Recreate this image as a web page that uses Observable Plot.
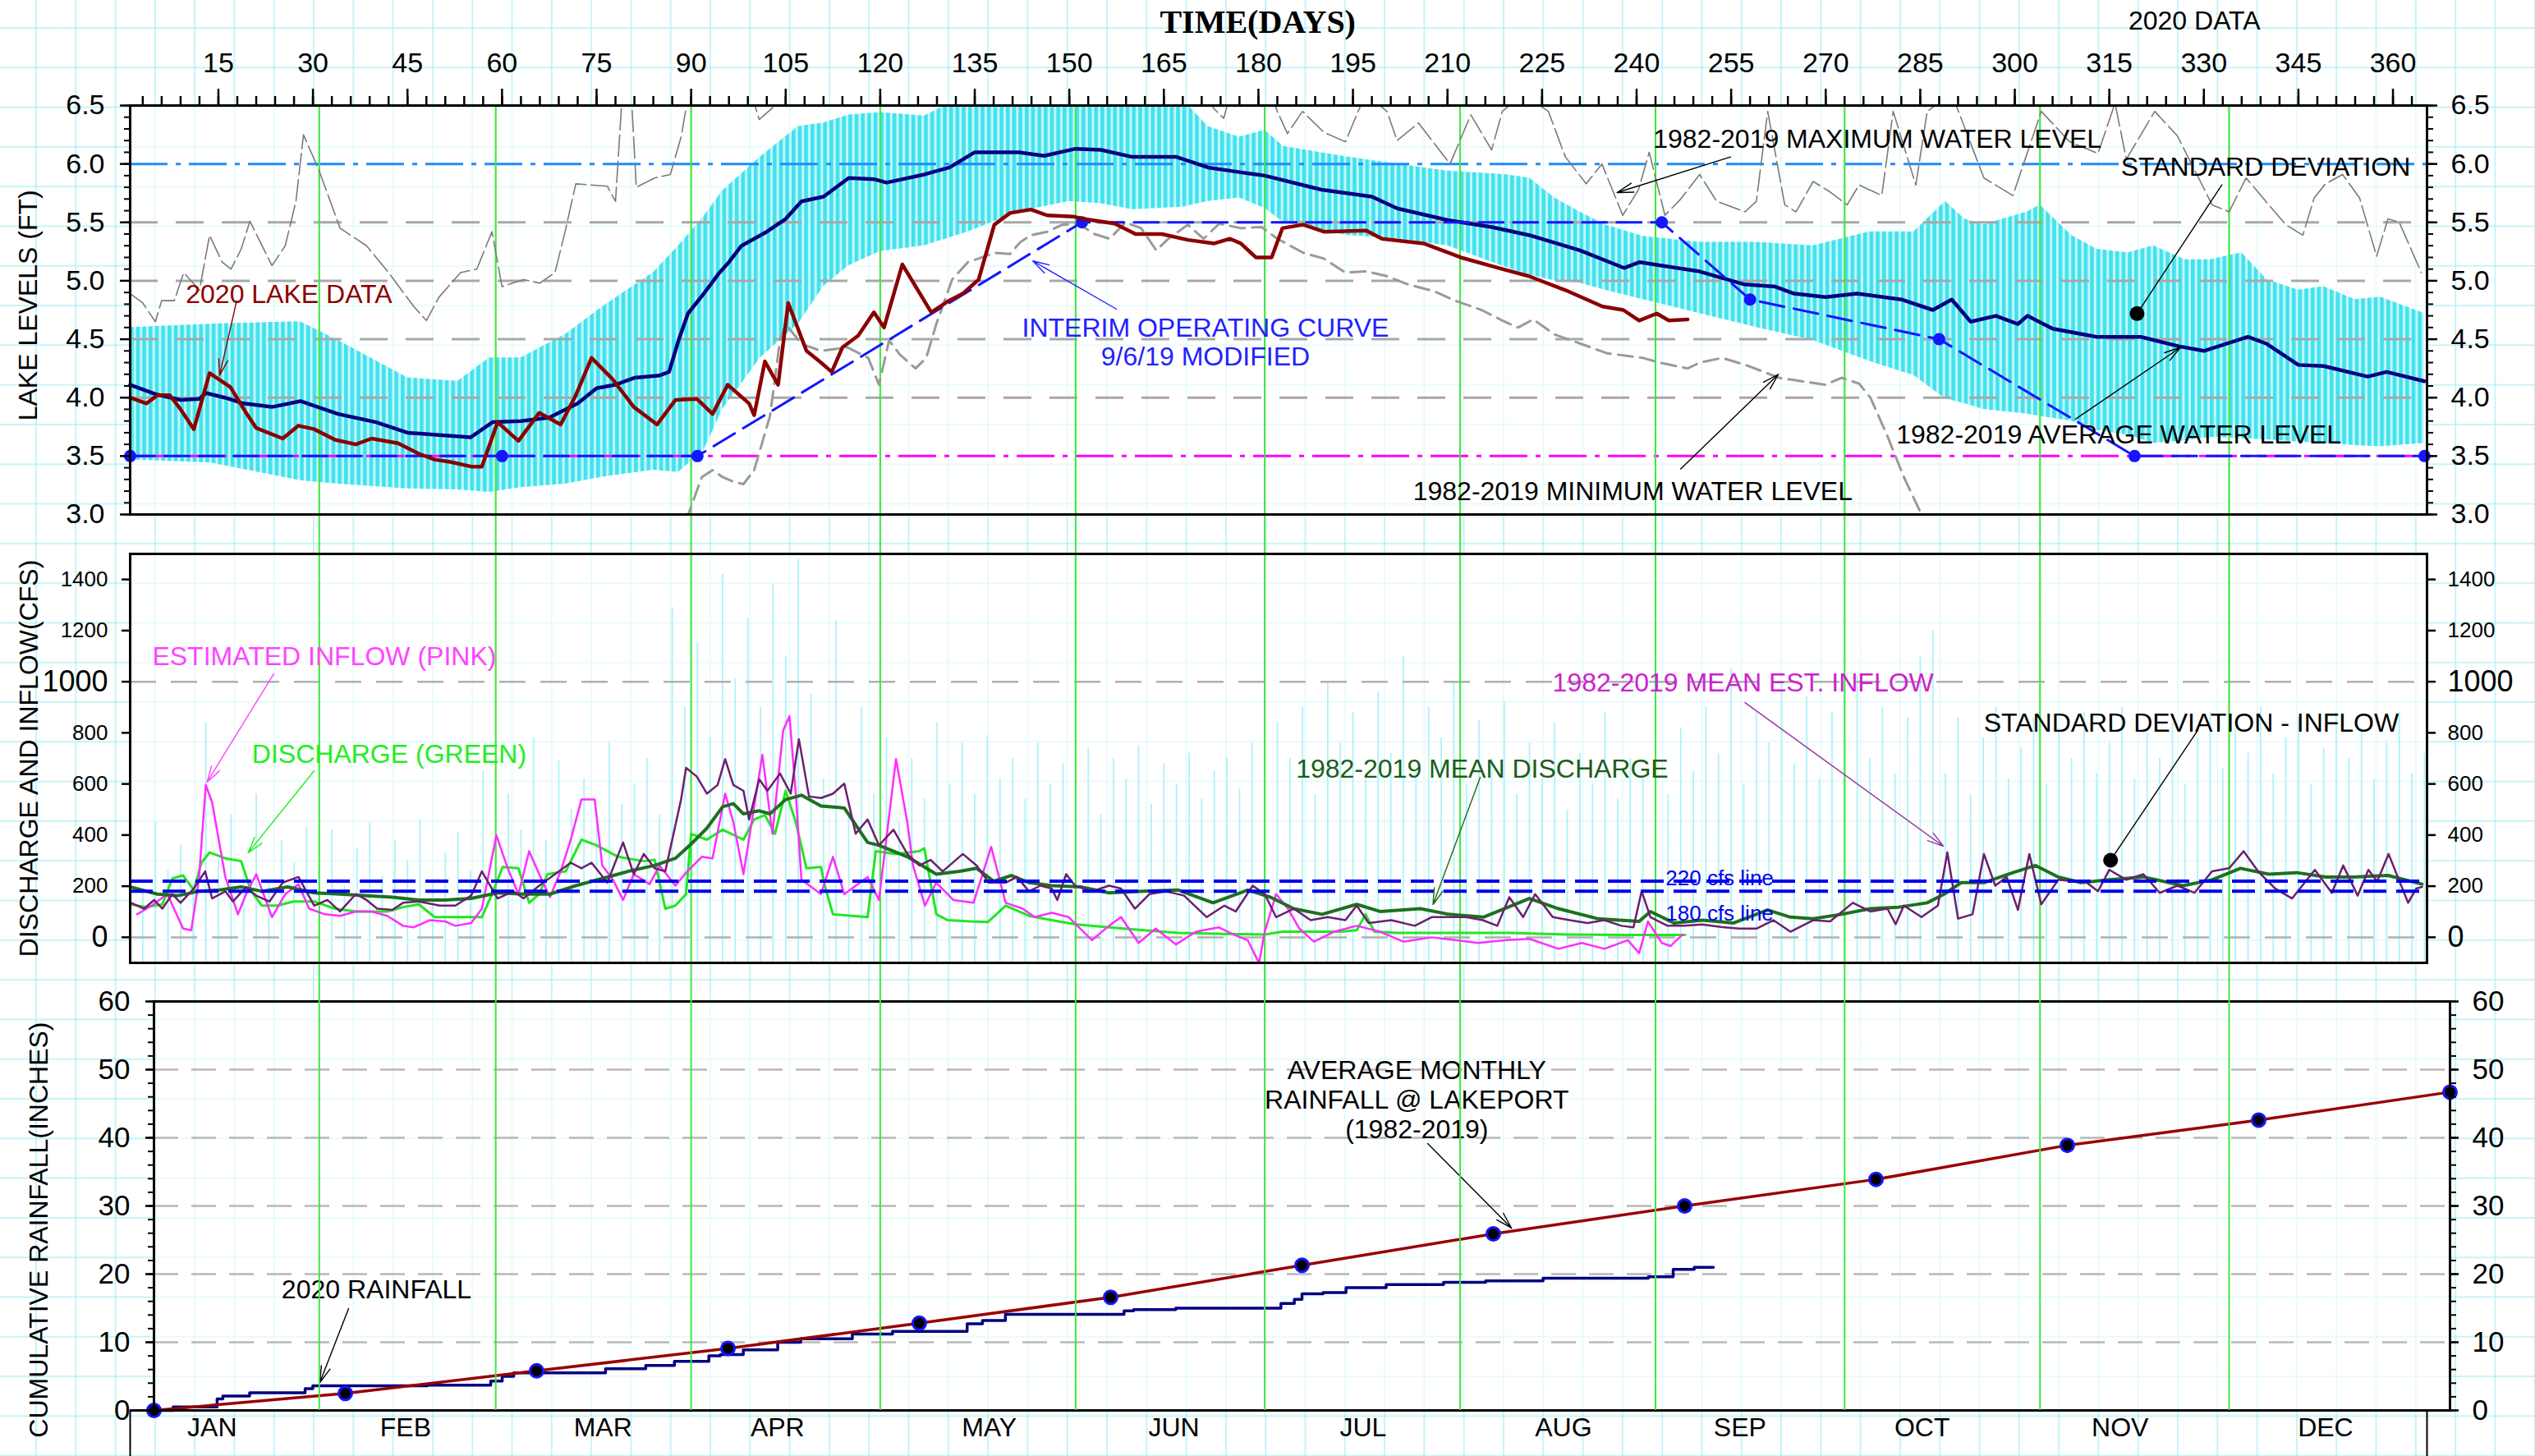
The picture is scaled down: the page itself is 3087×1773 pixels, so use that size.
<!DOCTYPE html>
<html><head><meta charset="utf-8">
<script src="https://cdn.jsdelivr.net/npm/d3@7"></script>
<script src="https://cdn.jsdelivr.net/npm/@observablehq/plot@0.6"></script>
<style>
html,body{margin:0;padding:0;background:#fff;}
#chart{position:relative;width:3087px;height:1773px;overflow:hidden;background-color:#fff;
 background-image:linear-gradient(to right, rgba(160,238,242,0.6) 1.5px, transparent 1.5px),linear-gradient(to bottom, rgba(160,238,242,0.6) 1.5px, transparent 1.5px);
 background-size:48.3px 48.3px;background-position:43px 33px;}
#chart svg{position:absolute;left:0;}
</style></head><body><div id="chart"></div>
<script>
// ---------------- tick labels / categories ----------------
const dayTicks = [15,30,45,60,75,90,105,120,135,150,165,180,195,210,225,240,255,270,285,300,315,330,345,360];
const dayMinorTicks = d3.range(3, 366, 3);
const levelTicks = [3.0,3.5,4.0,4.5,5.0,5.5,6.0,6.5];
const levelMinorTicks = d3.range(30, 66).map(d => d / 10);
const flowTicksSmall = [200,400,600,800,1200,1400];
const flowTicksBig = [0,1000];
const rainTicks = [0,10,20,30,40,50,60];
const rainMinorTicks = d3.range(0, 61, 2);
const monthNames = ["JAN","FEB","MAR","APR","MAY","JUN","JUL","AUG","SEP","OCT","NOV","DEC"];
const monthMidDays = [14,44.7,76,103.7,137.3,166.6,196.6,228.4,256.4,285.3,316.7,349.3];
const monthEndDays = [31,59,90,120,151,181,212,243,273,304,334];
const levelGrid = [4.0,4.5,5.0,5.5];

// ---------------- lake levels (ft) : [day, value] ----------------
const avgLevel = [[1,4.11],[5,4.03],[9,3.98],[12,3.99],[13,4.04],[16,4.0],[19,3.95],[23.5,3.92],[28,3.97],[34,3.86],[40,3.79],[45,3.70],[50,3.68],[55,3.66],[58.5,3.79],[63,3.80],[67.5,3.83],[72,3.95],[75,4.08],[78,4.11],[81,4.17],[85,4.19],[86.5,4.22],[88,4.49],[89.5,4.72],[92,4.89],[94.5,5.07],[96,5.16],[98,5.30],[102,5.42],[105,5.53],[107.5,5.68],[111,5.72],[115,5.88],[119,5.87],[121,5.84],[127,5.91],[131,5.97],[135,6.10],[142,6.10],[146,6.07],[151,6.13],[155,6.12],[160,6.06],[167,6.06],[172,5.97],[177,5.93],[181,5.90],[190,5.78],[198,5.72],[202,5.62],[210,5.52],[217,5.46],[223,5.39],[231,5.26],[238,5.11],[240.5,5.16],[244,5.13],[250,5.08],[257,4.97],[262,4.95],[265,4.89],[270,4.86],[275,4.89],[282,4.84],[287,4.75],[290,4.84],[293,4.65],[297,4.70],[300.5,4.63],[302,4.70],[306,4.59],[313,4.52],[320,4.52],[326,4.44],[330,4.40],[337,4.52],[340,4.46],[345,4.28],[349,4.27],[356,4.18],[359,4.22],[365,4.14]];
const lake2020 = [[1,4.00],[3.6,3.95],[5.3,4.02],[7.3,4.02],[9,3.90],[11.1,3.73],[13.6,4.21],[16.9,4.09],[19.4,3.87],[21,3.74],[25.2,3.65],[27.7,3.76],[30.2,3.73],[33.5,3.64],[36.8,3.60],[39.3,3.65],[43.5,3.61],[46.8,3.52],[49.3,3.47],[51.8,3.45],[55.1,3.41],[56.8,3.41],[59.3,3.79],[62.6,3.63],[65.9,3.87],[69.3,3.77],[71.7,4.02],[74.2,4.34],[77.5,4.16],[80.9,3.92],[84.6,3.77],[87.5,3.98],[90.9,3.99],[93.4,3.86],[95.8,4.11],[99.2,3.95],[100,3.85],[101.7,4.31],[103.8,4.11],[105.4,4.81],[108.3,4.40],[110.6,4.30],[112.3,4.22],[114,4.43],[116.5,4.53],[119,4.73],[120.6,4.60],[123.5,5.14],[128.1,4.73],[130.6,4.82],[133.1,4.89],[135.6,5.01],[138.1,5.48],[140.6,5.58],[143.9,5.61],[146.5,5.56],[150.6,5.55],[152.2,5.53],[157.2,5.49],[160.5,5.40],[164.7,5.40],[168.8,5.35],[173,5.32],[175.5,5.36],[177.2,5.32],[179.6,5.20],[182.1,5.20],[183.8,5.45],[187.1,5.48],[190.4,5.42],[197.1,5.43],[199.6,5.36],[206.2,5.32],[212.1,5.20],[218.7,5.10],[222.9,5.04],[228.7,4.92],[234.6,4.78],[237.9,4.75],[240.4,4.66],[243.2,4.72],[245.1,4.66],[248.1,4.67]];
const maxLevel = [[1,4.89],[3,4.81],[5,4.65],[6,4.83],[8,4.83],[9.5,5.07],[12,4.92],[13.6,5.39],[15.6,5.16],[17,5.10],[18.6,5.27],[20,5.51],[23.5,5.13],[25.6,5.30],[27.3,5.68],[28.5,6.25],[31,5.94],[34.3,5.45],[38.5,5.30],[42,5.07],[46,4.78],[48,4.66],[50,4.86],[53.4,5.07],[56,5.10],[58.4,5.42],[60,4.95],[63.4,5.01],[66,4.98],[68.4,5.07],[70,5.42],[71.7,5.83],[76.7,5.81],[78,5.68],[79.2,6.7],[80.5,6.6],[81.3,5.80],[84.2,5.88],[86.7,5.91],[88.4,6.23],[89.6,6.6],[95,6.9],[99,6.7],[100.8,6.38],[103.3,6.5],[106,6.9],[120,7.0],[150,7.0],[170,6.7],[173,6.47],[174.5,6.39],[176,6.7],[182,6.6],[183,6.45],[184.6,6.26],[187,6.45],[190.4,6.27],[193.8,6.19],[197,6.6],[200.4,6.45],[202,6.2],[205.4,6.35],[210.4,6.0],[213.7,6.42],[217,6.12],[218.7,6.45],[222,6.6],[226,6.45],[228.7,6.06],[232,5.83],[234.5,6.0],[237.8,5.56],[240.3,5.78],[242,6.1],[244.5,5.56],[247,5.7],[250,5.91],[252.7,5.68],[257.2,5.59],[259,5.68],[260.8,6.45],[263.5,5.65],[265.3,5.59],[268,5.85],[270.7,5.76],[273.4,5.65],[275.3,5.82],[278.9,5.73],[280.7,6.45],[284.3,5.82],[286.1,6.45],[290,6.6],[295.1,5.88],[299.7,5.73],[304.2,6.45],[308.7,6.19],[313.2,6.09],[315.9,6.52],[317.7,6.04],[322.2,6.45],[325.8,6.24],[331.3,5.65],[334,5.59],[336.7,5.88],[340.3,5.65],[343,5.48],[345.7,5.39],[347.5,5.71],[349.3,5.83],[352,5.91],[354.7,5.71],[357.4,5.21],[359.2,5.53],[361,5.50],[364.5,5.07]];
const minLevel = [[89.2,2.95],[91.7,3.32],[93.4,3.38],[95,3.32],[96.7,3.28],[98.3,3.26],[100,3.38],[102.5,3.84],[104.1,4.49],[105,4.63],[107.5,4.46],[110.6,4.40],[114.8,4.43],[118.1,4.34],[119.8,4.11],[121.4,4.49],[123.1,4.37],[125.6,4.25],[127.3,4.34],[128.9,4.63],[131.4,5.01],[133.9,5.16],[135.6,5.19],[138.1,5.24],[140.6,5.23],[142.2,5.33],[143.9,5.39],[146.5,5.42],[148.9,5.48],[151.4,5.49],[154,5.40],[156.4,5.36],[158.9,5.50],[161.4,5.45],[163.8,5.26],[165.5,5.35],[168.8,5.48],[171.3,5.36],[173.8,5.49],[177.2,5.45],[180.5,5.46],[183,5.36],[187.1,5.24],[190.4,5.19],[193.8,5.07],[197.1,5.08],[200.4,5.04],[203.7,4.97],[207.9,4.91],[211.2,4.83],[215.4,4.75],[218.7,4.66],[221.2,4.60],[223.6,4.67],[227,4.54],[231.2,4.46],[235.3,4.38],[241,4.34],[243.6,4.30],[248.1,4.25],[250,4.30],[253.6,4.34],[257.8,4.27],[262.6,4.17],[266.2,4.14],[270,4.11],[272.5,4.17],[275.3,4.12],[277.1,4.0],[279.8,3.67],[282.4,3.32],[285.2,3.0],[286,2.9]];
// standard deviation band: [day, upper, lower]
const sdBand = [[1,4.60,3.47],[14,4.63,3.44],[28,4.65,3.29],[34,4.49,3.26],[45,4.17,3.22],[53,4.14,3.21],[58,4.34,3.19],[63,4.34,3.23],[70,4.54,3.26],[76,4.78,3.32],[84,5.07,3.38],[88,5.30,3.36],[92,5.55,3.55],[95,5.77,3.90],[101,6.06,4.34],[107,6.32,4.63],[111,6.35,4.95],[115,6.42,5.13],[120,6.44,5.25],[127,6.41,5.30],[134,6.6,5.42],[142,6.6,5.59],[150,6.6,5.68],[155,6.6,5.66],[160,6.55,5.61],[168,6.55,5.63],[172,6.32,5.68],[177,6.23,5.71],[181,6.29,5.62],[184,6.15,5.50],[194,6.06,5.39],[202,6.0,5.36],[210,5.94,5.30],[219,5.91,5.12],[223,5.88,5.05],[227,5.71,5.0],[231,5.59,4.98],[235,5.48,4.92],[241,5.38,4.84],[250,5.33,4.72],[259,5.33,4.60],[268,5.30,4.49],[277,5.42,4.31],[284,5.42,4.19],[289,5.68,3.99],[292,5.53,3.95],[295,5.48,3.90],[302,5.59,3.86],[304,5.65,3.84],[309,5.39,3.80],[313,5.27,3.72],[318,5.24,3.68],[322,5.30,3.61],[327,5.18,3.63],[331,5.18,3.66],[336,5.24,3.65],[340,5.01,3.64],[345,4.92,3.62],[349,4.95,3.61],[354,4.84,3.59],[358,4.86,3.58],[365,4.72,3.61]];
// interim operating curve 9/6/19 modified
const interimDays = [1,60,91,152,244,258,288,319,365];
const interimLevels = [3.5,3.5,3.5,5.5,5.5,4.84,4.5,3.5,3.5];
const maxMinLines = [6.0, 3.5];

// ---------------- discharge & inflow (cfs) : [day, value] ----------------
const inflow2020 = [[2.1,90],[4.4,124],[6.9,169],[9.4,34],[10.7,28],[11.9,225],[13,596],[14,528],[16.1,236],[18.1,90],[19.4,169],[21,247],[23.5,79],[25.6,169],[27.7,208],[29.4,112],[31.9,90],[34.3,84],[36.8,101],[39.3,101],[41.8,84],[44.3,45],[46,39],[48.5,67],[51,62],[52.6,45],[55.1,56],[56.8,112],[59.1,399],[60.9,270],[62.6,169],[64.3,337],[65.9,247],[67.6,157],[69.3,258],[70.9,382],[72.6,539],[74.7,539],[75.9,281],[77.6,225],[79.2,146],[80.9,247],[83.4,208],[85,281],[87.5,202],[89.2,253],[91.7,315],[93.4,309],[95.4,562],[96.7,450],[98.3,247],[101.3,714],[102.9,405],[104.6,809],[105.6,865],[106.6,562],[107.5,225],[110.6,169],[112.5,315],[114.3,169],[118,236],[119.8,146],[122.5,697],[124.3,450],[125.2,281],[127.1,124],[128.9,214],[131.6,146],[134.8,135],[137.6,354],[139.9,135],[142.6,112],[144.5,79],[147.2,96],[149.9,79],[153.6,-11],[156.3,45],[158.2,79],[161,-22],[163.7,34],[166.9,-28],[170.1,22],[173.7,39],[176,11],[178.3,-11],[180.1,-101],[181,22],[182.8,169],[184.7,112],[186.5,34],[188.8,-17],[192,22],[195.6,45],[199.3,22],[203,-17],[207.5,0],[211.2,-11],[214.8,-22],[219.4,-11],[223,-6],[227.6,-45],[231.3,-22],[234.9,-45],[238.6,-11],[240.4,-62],[241.8,62],[244,-22],[245.4,-34],[247.3,11]];
const discharge2020 = [[1.1,129],[3.6,118],[6.1,129],[7.7,230],[9.4,242],[11.1,185],[12.3,292],[13.6,332],[16.1,309],[18.6,298],[20.2,180],[21.9,124],[24.4,124],[26.9,140],[30.2,140],[33.5,112],[36.8,101],[41.8,101],[44.3,118],[46.8,129],[49.3,79],[53.5,79],[56.8,79],[58.4,169],[60.1,275],[62.6,270],[64.3,135],[65.9,169],[67.2,247],[70.1,258],[72.6,382],[75,360],[78.4,315],[82.5,298],[84.2,303],[85.9,112],[87.5,124],[89.2,169],[90,405],[92.5,382],[95,421],[98.3,382],[100,461],[101.7,478],[103.3,405],[105,573],[106.6,450],[108.3,270],[110.6,275],[111.2,202],[112.5,90],[118,79],[119.3,337],[122.5,326],[126.2,337],[127,348],[128.9,90],[130.7,67],[134.4,62],[137.1,60],[139.9,124],[143.6,84],[147.2,67],[150.9,51],[156.3,39],[161.8,28],[167.3,17],[174.6,13],[181,11],[183.8,22],[193,22],[195.6,28],[197,90],[198.4,22],[202,17],[211,17],[220,17],[229,11],[238.6,9],[247.7,9]];
const meanDischarge = [[1.1,197],[5.3,169],[8.6,163],[11.9,180],[15.2,185],[18.6,197],[21.9,180],[26,197],[30.2,174],[34.3,169],[38.5,163],[42.6,157],[46.8,146],[51,146],[55.1,152],[59.3,174],[63.4,169],[67.6,169],[71.7,202],[75.9,230],[80,258],[84.2,281],[87.5,309],[90,365],[92.5,427],[95,511],[96.7,523],[98.3,483],[100.8,495],[102.5,483],[105,539],[107.5,556],[110.6,514],[114.3,506],[118,371],[119.8,360],[124.3,315],[128.9,247],[132.6,258],[135.3,270],[138,219],[140.8,242],[143.6,214],[147.2,202],[151.8,197],[156.3,174],[161.8,180],[167.3,185],[172.8,135],[178.3,185],[181.9,157],[185.6,112],[190.1,90],[195.6,129],[199.3,101],[205.7,112],[210.2,90],[215.7,79],[223,152],[227.6,112],[233.8,73],[240.4,62],[242.2,101],[245.9,56],[250.5,67],[255.4,56],[260.8,107],[264.4,79],[268,73],[272.5,90],[277.1,112],[281.6,118],[286.1,135],[288.8,169],[291.5,214],[295.1,214],[299.7,253],[303.3,281],[306.9,236],[310.5,214],[315,225],[320.4,236],[326.7,202],[331.3,225],[335.8,270],[340.3,247],[344.8,253],[349.3,236],[353.8,236],[359.2,242],[364.6,208]];
const meanInflow = [[1.1,135],[3.2,112],[4.8,146],[6.1,112],[7.7,169],[9,135],[11.1,191],[12.9,258],[14,152],[16.1,180],[17.3,140],[19.4,197],[21,163],[23.1,140],[25.2,214],[27.7,236],[30.2,124],[32.3,146],[34.3,101],[36.8,169],[38.5,146],[40.2,112],[42.6,107],[44.3,135],[46.8,140],[50.1,124],[52.6,124],[55.1,163],[56.8,258],[59.3,152],[61.8,180],[63.4,152],[65.9,202],[68.4,247],[70.9,292],[72.6,270],[74.2,292],[76.7,214],[79.2,371],[80.9,247],[82.5,326],[84.2,270],[85.9,258],[88.4,539],[89.2,663],[90.9,629],[92.5,562],[94.2,596],[95.4,697],[96.7,596],[98.3,573],[99.2,461],[100.8,618],[102.1,573],[104.1,641],[105.8,562],[107.1,775],[108.7,551],[110.6,545],[112.5,562],[114.3,601],[116.1,405],[118,461],[119.8,360],[122.1,421],[124.3,326],[126.2,281],[128,303],[129.9,258],[133.1,326],[135.3,281],[137.2,214],[139.9,214],[141.7,236],[143.6,180],[145.4,202],[147.2,191],[148.1,146],[149.5,247],[150.9,202],[153.6,180],[156.3,202],[158.2,191],[160.4,112],[162.7,169],[165.4,180],[168.2,163],[171.8,79],[174.6,124],[176.4,101],[179.1,202],[181,169],[182.8,79],[185.6,112],[188.3,67],[191,79],[193.8,67],[195.6,124],[197.5,56],[201.1,67],[204.8,45],[207.5,79],[210.2,79],[212.9,79],[215.6,67],[217.9,45],[219.8,157],[222,79],[223.9,169],[226.7,79],[229.4,67],[232.2,56],[234.9,67],[237.6,45],[239.5,39],[240.8,180],[242.2,79],[244.9,45],[247.6,45],[250.4,50],[253.6,40],[256.3,34],[259,34],[261.7,67],[264.4,22],[268,67],[270.7,62],[274.3,135],[277.1,101],[279.8,112],[281.1,51],[282.4,124],[285.2,79],[287.8,124],[289.3,332],[291,73],[293.3,90],[295.1,326],[296.9,202],[298.7,236],[300.5,107],[302.3,326],[304.2,129],[306.9,225],[311.4,214],[313.2,180],[315,264],[317.7,225],[320.4,247],[323,174],[325.8,202],[328.5,174],[331.3,258],[334,270],[336.3,337],[338.6,258],[341.3,191],[344,152],[347.6,264],[350.3,174],[352.1,281],[354.4,163],[356.1,264],[357.5,219],[359.3,326],[362.4,135],[363.7,191],[364.6,197]];
// standard deviation of inflow: spike tops every other day
const sdInflowDays = d3.range(1, 366, 2);
const sdInflowTop = [320,180,450,260,360,210,840,300,480,250,560,220,380,290,430,
 260,420,200,350,450,240,380,300,460,220,330,410,260,650,300,
 560,420,780,380,690,500,620,450,760,520,600,700,480,1290,
 900,1150,780,1420,1010,1250,900,1380,1100,1480,950,
 620,1240,480,900,560,780,450,
 700,540,840,600,760,560,790,620,700,540,760,600,680,
 560,740,480,700,620,750,520,680,600,720,540,650,700,580,760,
 620,840,700,900,560,1000,760,880,620,960,720,1100,650,900,780,1000,600,850,
 700,920,560,760,620,840,500,720,600,880,540,700,620,900,560,
 820,650,900,720,1050,600,880,760,1000,680,940,620,880,760,1020,700,900,640,860,1100,
 1200,640,860,560,780,900,620,
 740,860,600,820,700,880,640,760,900,620,800,700,840,600,780,880,660,820,720,900,640,780,860,600,740,880,700,820,620,760,880,640,720];
const cfsLines = [220, 180];
const flowGrid = [0, 1000];

// ---------------- cumulative rainfall (inches) : [month, value] ----------------
const avgRainMonths = [0,1,2,3,4,5,6,7,8,9,10,11,12];
const avgRain = [0,2.5,5.8,9.1,12.8,16.6,21.3,25.9,30.0,33.9,38.9,42.6,46.7];
const rain2020 = [[0,0],[0.1,0.5],[0.33,1.7],[0.36,2.1],[0.5,2.6],[0.79,3.2],[0.83,3.6],[1.43,3.7],[1.76,4.3],[1.82,5.0],[1.88,5.5],[2.36,6.1],[2.57,6.6],[2.72,7.2],[2.90,8.0],[2.96,8.2],[3.08,8.9],[3.26,10.0],[3.38,10.5],[3.65,11.2],[3.86,11.6],[4.25,12.7],[4.33,13.2],[4.45,14.1],[5.07,14.6],[5.12,14.8],[5.34,15.0],[5.89,15.7],[5.96,16.3],[6.0,17.1],[6.11,17.3],[6.23,18.0],[6.44,18.45],[6.74,18.8],[6.96,19.0],[7.26,19.4],[7.81,19.6],[7.94,20.7],[8.05,21.0],[8.15,21.0]];
const rainGrid = [10,20,30,40,50];

// ---------------- rendering ----------------
(function () {
const FONT = "'Liberation Sans', Arial, Helvetica, sans-serif";
const W = 3087, ML = 158, MR = 132;
const dayDomain = [1, 365.4];
const GREEN = "#3ee83e";
const style = {background: "transparent", fontFamily: FONT, overflow: "visible", color: "black"};

const note = (t, x, y, fill, o = {}) => Plot.text([t], {x, y, fill, fontSize: 32, fontFamily: FONT, ...o});
const arrow = (x1, y1, x2, y2, stroke) => Plot.arrow([0], {x1, y1, x2, y2, stroke, strokeWidth: 1.4, headLength: 22, headAngle: 32});
const link = (x1, y1, x2, y2) => Plot.link([0], {x1, y1, x2, y2, stroke: "black", strokeWidth: 1.4});
const yTitle = (t, y, dx) => Plot.text([t], {frameAnchor: "left", y, dx, rotate: -90, textAnchor: "middle", fontSize: 32, fontFamily: FONT, fill: "black"});
const yAxes = (ticks, minor, size, fmt, fontSize, pad) => [
  Plot.axisY({anchor: "left", ticks, tickSize: size, tickPadding: pad, tickFormat: fmt, fontSize, fontFamily: FONT, strokeWidth: 2.5, label: null}),
  Plot.axisY({anchor: "right", ticks, tickSize: size, tickPadding: pad - 2, tickFormat: fmt, fontSize, fontFamily: FONT, strokeWidth: 2.5, label: null}),
  ...(minor ? [
    Plot.axisY({anchor: "left", ticks: minor, tickSize: 7, tickFormat: () => "", strokeWidth: 2, label: null}),
    Plot.axisY({anchor: "right", ticks: minor, tickSize: 7, tickFormat: () => "", strokeWidth: 2, label: null})] : [])
];

const interim = interimDays.map((d, i) => [d, interimLevels[i]]);

const underPlot = Plot.plot({
  width: W, height: 1773, marginLeft: ML, marginRight: MR, marginTop: 128, marginBottom: 56,
  x: {domain: dayDomain, axis: null}, y: {domain: [0, 1], axis: null}, style,
  marks: [
    Plot.ruleX(monthEndDays, {stroke: GREEN, strokeWidth: 2}),
    Plot.ruleX(dayDomain, {y1: 0, y2: -0.05, stroke: "black", strokeWidth: 2}),
    Plot.ruleY([0], {x1: dayDomain[0], x2: 6, stroke: "black", strokeWidth: 3}),
    Plot.text(monthNames, {x: (d, i) => monthMidDays[i], frameAnchor: "bottom", dy: 31, fontSize: 32, fontFamily: FONT, fill: "black"})
  ]
});

const topPlot = Plot.plot({
  width: W, height: 650, marginLeft: ML, marginRight: MR, marginTop: 128, marginBottom: 24,
  x: {domain: dayDomain, axis: null}, y: {domain: [3, 6.5], axis: null}, style,
  marks: [
    Plot.frame({fill: "white", fillOpacity: 0.6, stroke: "none"}),
    Plot.areaY(sdBand, {x: "0", y1: "2", y2: "1", fill: "url(#sdStripe)", clip: true}),
    Plot.ruleY(levelGrid, {stroke: "#a8a8a8", strokeWidth: 3, strokeDasharray: "34,22"}),
    Plot.ruleY([maxMinLines[0]], {stroke: "#1e8cff", strokeWidth: 3, strokeDasharray: "46,10,6,10"}),
    Plot.ruleY([maxMinLines[1]], {stroke: "#ff00ff", strokeWidth: 3, strokeDasharray: "46,10,6,10"}),
    Plot.ruleX(monthEndDays, {stroke: GREEN, strokeWidth: 2}),
    Plot.line(maxLevel, {x: "0", y: "1", stroke: "#7a7a7a", strokeWidth: 1.6, strokeDasharray: "26,6", clip: true}),
    Plot.line(minLevel, {x: "0", y: "1", stroke: "#9a9a9a", strokeWidth: 3, strokeDasharray: "18,9", clip: true}),
    Plot.line(avgLevel, {x: "0", y: "1", stroke: "#000080", strokeWidth: 4.5}),
    Plot.line(interim, {x: "0", y: "1", stroke: "#1515ff", strokeWidth: 3, strokeDasharray: "30,12"}),
    Plot.dot(interim, {x: "0", y: "1", r: 7.5, fill: "#1515ff"}),
    Plot.line(lake2020, {x: "0", y: "1", stroke: "#8b0000", strokeWidth: 4.5}),
    note("2020 LAKE DATA", 26.2, 4.88, "#8b0000"),
    arrow(17.9, 4.83, 15.2, 4.19, "#8b0000"),
    note("INTERIM OPERATING CURVE\n9/6/19 MODIFIED", 171.6, 4.48, "#2222ff", {lineHeight: 1.1}),
    arrow(157.5, 4.757, 144.2, 5.17, "#2222ff"),
    note("1982-2019 MAXIMUM WATER LEVEL", 278.2, 6.21, "black"),
    arrow(254.9, 6.06, 236.9, 5.755, "black"),
    note("STANDARD DEVIATION", 339.8, 5.97, "black"),
    link(332.9, 5.825, 319.4, 4.72),
    Plot.dot([0], {x: 319.4, y: 4.72, r: 9, fill: "black"}),
    note("1982-2019 AVERAGE WATER LEVEL", 316.5, 3.68, "black"),
    arrow(309.6, 3.815, 326.3, 4.43, "black"),
    note("1982-2019 MINIMUM WATER LEVEL", 239.4, 3.197, "black"),
    arrow(247.0, 3.39, 262.5, 4.20, "black"),
    note("TIME(DAYS)", 179.9, 7.21, "black", {fontSize: 40, fontWeight: "bold", fontFamily: "'Liberation Serif', 'Times New Roman', serif"}),
    note("2020 DATA", 328.5, 7.22, "black"),
    yTitle("LAKE LEVELS (FT)", 4.79, -124),
    Plot.frame({stroke: "black", strokeWidth: 3}),
    Plot.axisX({anchor: "top", ticks: dayTicks, tickSize: 21, tickPadding: 20, fontSize: 34, fontFamily: FONT, strokeWidth: 2.5, tickFormat: d => String(d), label: null}),
    Plot.axisX({anchor: "top", ticks: dayMinorTicks, tickSize: 12, strokeWidth: 2.5, tickFormat: () => "", label: null}),
    ...yAxes(levelTicks, levelMinorTicks, 12, d3.format(".1f"), 34, 19)
  ]
});
{
  const defs = document.createElementNS("http://www.w3.org/2000/svg", "defs");
  defs.innerHTML = `<pattern id="sdStripe" patternUnits="userSpaceOnUse" x="${ML}" y="0" width="7.676" height="40"><rect x="0" y="0" width="7.676" height="40" fill="#c4f6f9"/><rect x="0" y="0" width="4.6" height="40" fill="#40e2ee"/></pattern>`;
  topPlot.insertBefore(defs, topPlot.firstChild);
}

const sdInflow = sdInflowTop.map((v, i) => [sdInflowDays[i], v]);
const midPlot = Plot.plot({
  width: W, height: 570, marginLeft: ML, marginRight: MR, marginTop: 24, marginBottom: 48,
  x: {domain: dayDomain, axis: null}, y: {domain: [-100, 1500], axis: null}, style,
  marks: [
    Plot.frame({fill: "white", fillOpacity: 0.6, stroke: "none"}),
    Plot.ruleX(sdInflow, {x: "0", y1: -100, y2: "1", stroke: "#aef2f7", strokeWidth: 1.8, clip: true}),
    Plot.ruleY(flowGrid, {stroke: "#b0b0b0", strokeWidth: 2.5, strokeDasharray: "32,18"}),
    Plot.ruleX(monthEndDays, {stroke: GREEN, strokeWidth: 2}),
    Plot.line(discharge2020, {x: "0", y: "1", stroke: "#22e622", strokeWidth: 3, clip: true}),
    Plot.line(inflow2020, {x: "0", y: "1", stroke: "#ff2dff", strokeWidth: 2.5, clip: true}),
    Plot.line(meanDischarge, {x: "0", y: "1", stroke: "#1e701e", strokeWidth: 4}),
    Plot.line(meanInflow, {x: "0", y: "1", stroke: "#6e1e6e", strokeWidth: 2.5}),
    Plot.ruleY(cfsLines, {stroke: "#0000ee", strokeWidth: 4, strokeDasharray: "28,12"}),
    Plot.text(["220 cfs line"], {x: 244.6, y: 231, textAnchor: "start", fill: "#0000ee", fontSize: 26, fontFamily: FONT}),
    Plot.text(["180 cfs line"], {x: 244.6, y: 92.8, textAnchor: "start", fill: "#0000ee", fontSize: 26, fontFamily: FONT}),
    note("ESTIMATED INFLOW (PINK)", 31.8, 1098, "#ff44ff"),
    arrow(23.8, 1031, 13.2, 607, "#ff44ff"),
    note("DISCHARGE (GREEN)", 42.1, 716, "#22ee22"),
    arrow(30.2, 652, 19.7, 330, "#22ee22"),
    note("1982-2019 MEAN EST. INFLOW", 256.9, 996, "#cc22cc"),
    arrow(257.2, 918, 288.7, 356, "#993399"),
    note("1982-2019 MEAN DISCHARGE", 215.5, 658, "#1a5e1a"),
    arrow(215.2, 626, 207.7, 128, "#1a6b1a"),
    note("STANDARD DEVIATION - INFLOW", 328, 838, "black"),
    link(329, 809, 315.2, 301.6),
    Plot.dot([0], {x: 315.2, y: 301.6, r: 9, fill: "black"}),
    yTitle("DISCHARGE AND INFLOW(CFS)", 700, -123),
    Plot.frame({stroke: "black", strokeWidth: 3}),
    ...yAxes(flowTicksSmall, null, 10, d => String(d), 26, 17),
    Plot.axisY({anchor: "left", ticks: flowTicksBig, tickSize: 10, tickPadding: 17, tickFormat: d => String(d), fontSize: 36, fontFamily: FONT, strokeWidth: 2.5, label: null}),
    Plot.axisY({anchor: "right", ticks: flowTicksBig, tickSize: 10, tickPadding: 15, tickFormat: d => String(d), fontSize: 36, fontFamily: FONT, strokeWidth: 2.5, label: null})
  ]
});

const avgRainPts = avgRainMonths.map((m, i) => [m, avgRain[i]]);
const botPlot = Plot.plot({
  width: W, height: 583, marginLeft: 187, marginRight: 104, marginTop: 29, marginBottom: 56,
  x: {domain: [0, 12], axis: null}, y: {domain: [0, 60], axis: null}, style,
  marks: [
    Plot.frame({fill: "white", fillOpacity: 0.6, stroke: "none"}),
    Plot.ruleY(rainGrid, {stroke: "#b8b8b8", strokeWidth: 2.5, strokeDasharray: "30,16"}),
    Plot.line(rain2020, {x: "0", y: "1", curve: "step-after", stroke: "#000080", strokeWidth: 3.5}),
    Plot.line(avgRainPts, {x: "0", y: "1", stroke: "#990000", strokeWidth: 3.5}),
    Plot.dot(avgRainPts, {x: "0", y: "1", r: 8, fill: "black", stroke: "#1515ff", strokeWidth: 3}),
    note("2020 RAINFALL", 1.163, 17.7, "black"),
    arrow(1.017, 14.94, 0.867, 4.10, "black"),
    note("AVERAGE MONTHLY\nRAINFALL @ LAKEPORT\n(1982-2019)", 6.6, 45.66, "black", {lineHeight: 1.125}),
    arrow(6.657, 39.16, 7.095, 26.75, "black"),
    yTitle("CUMULATIVE RAINFALL(INCHES)", 26.5, -140),
    Plot.frame({stroke: "black", strokeWidth: 3}),
    ...yAxes(rainTicks, rainMinorTicks, 10, d => String(d), 35, 19)
  ]
});

const chart = document.getElementById("chart");
botPlot.style.top = "1190px";
underPlot.style.top = "0px";
topPlot.style.top = "0px";
midPlot.style.top = "650px";
chart.append(botPlot, underPlot, topPlot, midPlot);
})();
</script></body></html>
